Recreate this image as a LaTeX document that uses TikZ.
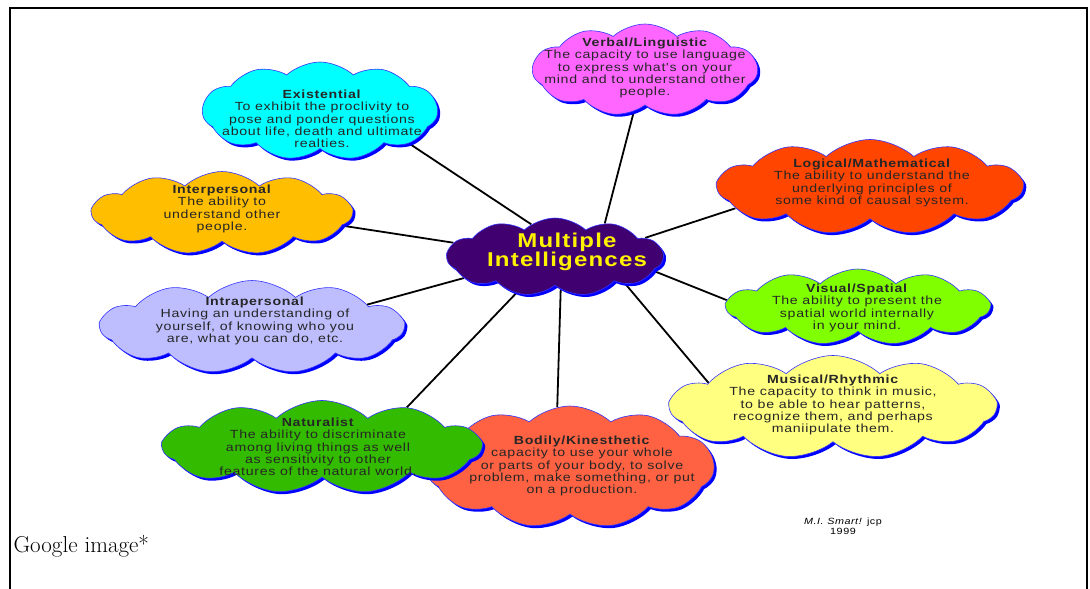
\documentclass[tikz,border=0pt]{standalone}
\usepackage{fontspec}
\newfontfamily\cloudfont{Liberation Sans}[FakeStretch=1.2,LetterSpace=6]
\usetikzlibrary{shapes.symbols,
	shadows,
	backgrounds,
	positioning}

\definecolor{verbalc}{RGB}{255,102,255}
\definecolor{existc}{RGB}{0,255,255}
\definecolor{logicc}{RGB}{255,69,0}
\definecolor{interc}{RGB}{255,190,0}
\definecolor{visualc}{RGB}{128,255,0}
\definecolor{intrac}{RGB}{190,190,255}
\definecolor{musicc}{RGB}{255,255,128}
\definecolor{bodyc}{RGB}{255,98,66}
\definecolor{naturec}{RGB}{51,187,0}
\definecolor{centerc}{RGB}{64,0,112}

\tikzset{
	bubble/.style={
			cloud,
			cloud puffs=11,
			cloud puff arc=85,
			draw=blue!80!white,
			line width=0.6pt,
			inner sep=0pt,
			drop shadow={fill=blue, opacity=1, shadow xshift=2.5pt, shadow yshift=-2.5pt}
		},
	blurb/.style={font=\cloudfont\fontsize{11.8}{12.3}\selectfont, align=center, text=black!85},
	link/.style={line width=1.8pt, black}
}

\begin{document}
\begin{tikzpicture}[x=1pt, y=-1pt]
            \useasboundingbox (0, 0) rectangle (1090, 589);
            \draw[line width=1.5pt] (10, 589) -- (10, 8) -- (1087, 8) -- (1087, 589);

            \node[bubble, fill=verbalc, minimum width=225, minimum height=92] (verbal) at (645, 70) {};
            \node[blurb] (verbaltxt) at (645, 68) {\textbf{Verbal/Linguistic}\\The capacity to use language\\to express what's on your\\mind and to understand other\\people.};

            \node[bubble, fill=existc, minimum width=235, minimum height=98] (exist) at (320, 111) {};
            \node[blurb] (existtxt) at (322, 119) {\textbf{Existential}\\To exhibit the proclivity to\\pose and ponder questions\\about life, death and ultimate\\realties.};

            \node[bubble, fill=logicc, minimum width=305, minimum height=95] (logic) at (870, 187) {};
            \node[blurb] (logictxt) at (872, 183) {\textbf{Logical/Mathematical}\\The ability to understand the\\underlying principles of\\some kind of causal system.};

            \node[bubble, fill=interc, minimum width=260, minimum height=83] (inter) at (222, 213) {};
            \node[blurb] (intertxt) at (222, 209) {\textbf{Interpersonal}\\The ability to\\understand other\\people.};

            \node[bubble, fill=visualc, minimum width=263, minimum height=76] (visual) at (858, 307) {};
            \node[blurb] (visualtxt) at (857, 308) {\textbf{Visual/Spatial}\\The ability to present the\\spatial world internally\\in your mind.};

            \node[bubble, fill=intrac, minimum width=303, minimum height=93] (intra) at (252, 327) {};
            \node[blurb] (intratxt) at (255, 321) {\textbf{Intrapersonal}\\Having an understanding of\\yourself, of knowing who you\\are, what you can do, etc.};

            \node[bubble, fill=musicc, minimum width=326, minimum height=103] (music) at (833, 407) {};
            \node[blurb] (musictxt) at (833, 405) {\textbf{Musical/Rhythmic}\\The capacity to think in music,\\to be able to hear patterns,\\recognize them, and perhaps\\maniipulate them.};

            \node[bubble, fill=bodyc, minimum width=288, minimum height=122] (body) at (570, 467) {};
            \node[blurb] (bodytxt) at (582, 466) {\textbf{Bodily/Kinesthetic}\\capacity to use your whole\\or parts of your body, to solve\\problem, make something, or put\\on a production.};

            \node[bubble, fill=naturec, minimum width=318, minimum height=93] (nature) at (322, 447) {};
            \node[blurb] (naturetxt) at (318, 447) {\textbf{Naturalist}\\The ability to discriminate\\among living things as well\\as sensitivity to other\\features of the natural world.};

            \node[bubble, fill=centerc, minimum width=216, minimum height=78] (mi) at (555, 257) {};
            \node[font=\cloudfont\bfseries\fontsize{20}{19}\selectfont, align=center, text=yellow] (mitxt) at (567, 252) {Multiple\\Intelligences};

            \node[font=\cloudfont\fontsize{9}{10}\selectfont, align=center] (credit) at (843, 526) {\textit{M.I. Smart!} jcp\\1999};
            \node[font=\fontsize{23}{26}\selectfont, anchor=west] (source) at (10, 546) {Google image*};

            \begin{scope}[on background layer]
                \draw[link] (mi.34) -- (verbal.255);
                \draw[link] (mi.126) -- (exist.340);
                \draw[link] (mi.12) -- (logic.189);
                \draw[link] (mi.172) -- (inter.354);
                \draw[link] (mi.352) -- (visual.177);
                \draw[link] (mi.193) -- (intra.11);
                \draw[link] (mi.339) -- (music.169);
                \draw[link] (mi.280) -- (body.102);
                \draw[link] (mi.223) -- (nature.25);
            \end{scope}
        \end{tikzpicture}
\end{document}
